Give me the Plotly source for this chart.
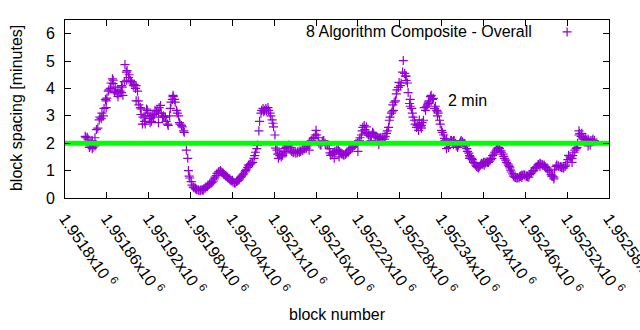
import plotly.graph_objects as go

# Block heights and the averaged block spacing (minutes) at each
blocks = [
    1951829, 1951830, 1951832, 1951833, 1951835, 1951836, 1951839, 1951840, 1951843, 1951845,
    1951847, 1951849, 1951850, 1951852, 1951853, 1951856, 1951858, 1951859, 1951860, 1951862,
    1951863, 1951865, 1951866, 1951868, 1951869, 1951871, 1951872, 1951873, 1951875, 1951876,
    1951879, 1951881, 1951882, 1951883, 1951885, 1951886, 1951888, 1951889, 1951891, 1951892,
    1951894, 1951895, 1951896, 1951898, 1951899, 1951901, 1951902, 1951904, 1951905, 1951906,
    1951908, 1951909, 1951911, 1951912, 1951914, 1951915, 1951917, 1951918, 1951919, 1951921,
    1951922, 1951924, 1951925, 1951927, 1951928, 1951929, 1951931, 1951932, 1951934, 1951935,
    1951937, 1951938, 1951940, 1951941, 1951942, 1951944, 1951945, 1951947, 1951948, 1951950,
    1951951, 1951952, 1951954, 1951955, 1951957, 1951958, 1951960, 1951961, 1951963, 1951964,
    1951965, 1951967, 1951968, 1951970, 1951971, 1951974, 1951976, 1951977, 1951978, 1951979,
    1951981, 1951982, 1951984, 1951985, 1951987, 1951988, 1951989, 1951991, 1951992, 1951994,
    1951995, 1951997, 1951998, 1951999, 1952001, 1952002, 1952004, 1952005, 1952007, 1952008,
    1952010, 1952011, 1952013, 1952014, 1952015, 1952017, 1952018, 1952020, 1952021, 1952023,
    1952024, 1952026, 1952027, 1952028, 1952030, 1952031, 1952033, 1952034, 1952036, 1952037,
    1952039, 1952040, 1952041, 1952043, 1952044, 1952046, 1952047, 1952049, 1952050, 1952052,
    1952053, 1952055, 1952056, 1952058, 1952059, 1952060, 1952062, 1952063, 1952065, 1952066,
    1952068, 1952069, 1952071, 1952072, 1952073, 1952075, 1952076, 1952078, 1952079, 1952081,
    1952082, 1952084, 1952085, 1952086, 1952088, 1952089, 1952091, 1952092, 1952094, 1952095,
    1952097, 1952098, 1952099, 1952101, 1952102, 1952104, 1952105, 1952107, 1952108, 1952110,
    1952111, 1952112, 1952114, 1952115, 1952117, 1952118, 1952120, 1952121, 1952123, 1952124,
    1952125, 1952127, 1952128, 1952130, 1952131, 1952133, 1952134, 1952136, 1952137, 1952138,
    1952140, 1952141, 1952143, 1952144, 1952146, 1952147, 1952148, 1952150, 1952151, 1952153,
    1952154, 1952156, 1952157, 1952159, 1952160, 1952161, 1952163, 1952164, 1952166, 1952167,
    1952169, 1952170, 1952171, 1952173, 1952174, 1952176, 1952177, 1952179, 1952180, 1952181,
    1952183, 1952184, 1952186, 1952187, 1952189, 1952190, 1952192, 1952193, 1952194, 1952196,
    1952197, 1952199, 1952200, 1952202, 1952203, 1952204, 1952206, 1952207, 1952209, 1952210,
    1952212, 1952213, 1952215, 1952216, 1952217, 1952219, 1952220, 1952222, 1952223, 1952225,
    1952226, 1952227, 1952229, 1952230, 1952232, 1952233, 1952235, 1952236, 1952238, 1952239,
    1952241, 1952242, 1952243, 1952245, 1952246, 1952248, 1952249, 1952251, 1952252, 1952253,
    1952255, 1952256, 1952258, 1952259, 1952261, 1952262, 1952264, 1952265, 1952266, 1952268,
    1952269, 1952271, 1952272, 1952274, 1952275, 1952276, 1952278, 1952279, 1952281, 1952282,
    1952284, 1952285, 1952287, 1952288, 1952289, 1952291, 1952292, 1952294, 1952295, 1952297,
    1952298, 1952299, 1952301, 1952302, 1952304, 1952305, 1952307, 1952308, 1952310, 1952311,
    1952312, 1952314, 1952315, 1952317, 1952318, 1952320, 1952321, 1952322, 1952324, 1952325,
    1952327, 1952328, 1952330, 1952331, 1952333, 1952334, 1952335, 1952337, 1952338, 1952340,
    1952341, 1952343, 1952344, 1952345, 1952347, 1952348, 1952350, 1952351, 1952353, 1952354,
    1952356, 1952357, 1952358, 1952360, 1952361, 1952363, 1952364, 1952366, 1952367, 1952368,
    1952370, 1952371, 1952373, 1952374, 1952376, 1952377, 1952379, 1952380, 1952381, 1952383,
    1952384, 1952386, 1952387, 1952389, 1952390, 1952392, 1952393, 1952394, 1952396, 1952397,
    1952399, 1952400, 1952402, 1952403, 1952405, 1952406, 1952407, 1952409, 1952410, 1952412,
    1952413, 1952415, 1952416, 1952418, 1952419, 1952420, 1952422, 1952423, 1952425, 1952426,
    1952428, 1952429, 1952430, 1952432, 1952433, 1952435, 1952436, 1952438, 1952439, 1952440,
    1952442, 1952443, 1952445, 1952446, 1952448, 1952449, 1952451, 1952452, 1952453, 1952455,
    1952456, 1952458, 1952459, 1952461, 1952462, 1952463, 1952465, 1952466, 1952468, 1952469,
    1952471, 1952472, 1952474, 1952475, 1952476, 1952478, 1952479, 1952481, 1952482, 1952484,
    1952485, 1952487, 1952488, 1952489, 1952491, 1952492, 1952494, 1952495, 1952497, 1952498,
    1952499, 1952501, 1952502, 1952504, 1952505, 1952507, 1952508, 1952510, 1952511, 1952512,
    1952514, 1952515, 1952517, 1952518, 1952520, 1952521, 1952522, 1952524, 1952525, 1952527,
    1952528, 1952530, 1952531, 1952533, 1952534, 1952535, 1952537, 1952538, 1952540, 1952541,
    1952543, 1952544, 1952546, 1952547, 1952548, 1952550, 1952551, 1952553, 1952554, 1952556,
    1952557, 1952559,
]

spacing_minutes = [
    2.25, 2.2, 2.22, 2.15, 1.85, 1.9, 2.1, 1.85, 2.2, 2.5,
    2.55, 2.85, 2.95, 2.9, 3.1, 3.27, 3.6, 3.55, 3.65, 3.9,
    3.95, 4.0, 4.2, 4.35, 4.18, 3.85, 4.05, 3.9, 3.8, 3.95,
    3.9, 4.1, 4.05, 3.75, 4.25, 4.87, 4.6, 4.65, 4.4, 4.5,
    4.3, 4.25, 4.2, 4.1, 4.15, 4.0, 4.1, 3.9, 3.55, 3.4,
    3.3, 3.05, 2.7, 2.95, 2.8, 3.0, 3.25, 3.2, 3.1, 2.9,
    2.75, 2.8, 3.0, 2.95, 3.05, 3.2, 3.15, 3.2, 3.1, 3.3,
    3.38, 3.1, 2.95, 3.0, 2.95, 2.95, 2.8, 2.7, 2.65, 3.0,
    3.27, 3.5, 3.6, 3.75, 3.6, 3.5, 3.2, 3.1, 3.0, 2.75,
    2.7, 2.65, 2.6, 2.45, 2.4, 1.75, 1.45, 1.0, 0.8, 0.73,
    0.6, 0.47, 0.4, 0.38, 0.36, 0.32, 0.3, 0.3, 0.28, 0.27,
    0.3, 0.3, 0.28, 0.33, 0.36, 0.4, 0.42, 0.47, 0.5, 0.52,
    0.55, 0.58, 0.62, 0.7, 0.76, 0.82, 0.9, 0.95, 0.97, 1.0,
    0.95, 0.92, 0.9, 0.85, 0.82, 0.8, 0.76, 0.72, 0.7, 0.65,
    0.62, 0.65, 0.58, 0.55, 0.55, 0.6, 0.62, 0.65, 0.7, 0.75,
    0.8, 0.84, 0.88, 0.95, 1.0, 1.05, 1.12, 1.2, 1.22, 1.25,
    1.28, 1.3, 1.45, 1.55, 1.67, 1.8, 1.93, 2.45, 2.8, 3.1,
    3.2, 3.27, 3.15, 3.2, 3.27, 3.2, 3.3, 3.2, 3.1, 3.0,
    2.85, 2.73, 2.6, 2.3, 1.82, 1.75, 1.6, 1.64, 1.55, 1.5,
    1.6, 1.56, 1.7, 1.8, 1.85, 1.9, 1.9, 1.93, 1.85, 1.75,
    1.7, 1.67, 1.65, 1.7, 1.64, 1.65, 1.7, 1.67, 1.72, 1.7,
    1.75, 1.75, 1.8, 1.8, 1.82, 1.9, 1.95, 2.0, 2.05, 2.1,
    2.1, 2.18, 2.2, 2.3, 2.47, 2.3, 2.2, 2.0, 1.95, 1.93,
    2.05, 2.1, 2.1, 2.0, 1.95, 1.95, 1.93, 1.8, 1.65, 1.56,
    1.6, 1.65, 1.67, 1.7, 1.72, 1.75, 1.75, 1.7, 1.68, 1.64,
    1.6, 1.58, 1.56, 1.6, 1.62, 1.65, 1.67, 1.72, 1.78, 1.82,
    1.85, 1.9, 1.93, 1.95, 1.98, 2.0, 2.04, 2.1, 2.2, 2.3,
    2.45, 2.58, 2.65, 2.5, 2.4, 2.35, 2.3, 2.3, 2.25, 2.3,
    2.4, 2.36, 2.3, 2.25, 2.22, 2.2, 2.2, 2.18, 2.2, 2.2,
    2.15, 2.2, 2.15, 2.25, 2.36, 2.45, 2.58, 2.84, 2.95, 3.1,
    3.15, 3.2, 3.5, 3.55, 3.8, 3.95, 4.04, 4.22, 4.1, 4.2,
    4.6, 5.02, 4.55, 4.45, 4.29, 4.2, 3.85, 3.45, 3.6, 3.27,
    3.1, 2.95, 2.84, 2.7, 2.58, 2.65, 2.47, 2.7, 2.6, 2.65,
    2.75, 2.84, 3.3, 3.2, 3.35, 3.4, 3.5, 3.55, 3.7, 3.75,
    3.6, 3.64, 3.27, 3.35, 3.2, 3.15, 3.1, 2.84, 2.7, 2.47,
    2.4, 2.3, 2.18, 2.1, 2.15, 1.95, 1.85, 2.0, 2.1, 2.1,
    2.05, 2.1, 2.1, 2.0, 1.9, 1.85, 1.93, 2.0, 2.05, 2.1,
    2.05, 2.0, 2.0, 1.9, 1.8, 1.7, 1.64, 1.55, 1.5, 1.45,
    1.4, 1.3, 1.27, 1.2, 1.15, 1.12, 1.1, 1.15, 1.2, 1.27,
    1.25, 1.3, 1.3, 1.28, 1.32, 1.3, 1.3, 1.35, 1.4, 1.45,
    1.55, 1.6, 1.67, 1.72, 1.78, 1.82, 1.85, 1.8, 1.72, 1.67,
    1.6, 1.52, 1.45, 1.38, 1.3, 1.25, 1.2, 1.1, 1.02, 0.95,
    0.88, 0.8, 0.76, 0.75, 0.72, 0.75, 0.73, 0.78, 0.8, 0.84,
    0.82, 0.85, 0.84, 0.8, 0.8, 0.78, 0.76, 0.85, 0.9, 0.95,
    1.0, 1.0, 1.1, 1.1, 1.13, 1.2, 1.22, 1.27, 1.25, 1.22,
    1.2, 1.2, 1.15, 1.12, 1.1, 1.05, 1.0, 0.95, 0.85, 0.8,
    0.8, 0.76, 1.05, 1.15, 1.2, 1.18, 1.15, 1.13, 1.15, 1.12,
    1.1, 1.1, 1.15, 1.2, 1.3, 1.4, 1.56, 1.5, 1.45, 1.45,
    1.55, 1.67, 1.75, 1.8, 1.85, 2.0, 2.3, 2.35, 2.25, 2.36,
    2.2, 2.15, 2.18, 2.15, 2.1, 2.15, 2.1, 1.93, 2.1, 2.1,
    2.15, 2.1,
]

# Further samples that sit off the main band
stray_blocks = [
    1951839, 1951843, 1951855, 1951859, 1951869, 1951876, 1951881, 1951888, 1951902, 1951909,
    1951915, 1951922, 1951934, 1951955, 1952106, 1952117, 1952150, 1952186, 1952193, 1952220,
    1952232, 1952239, 1952250, 1952270, 1952289, 1952295, 1952308, 1952311, 1952322, 1952334,
    1952347, 1952357, 1952380, 1952401, 1952437, 1952455, 1952481, 1952501, 1952527, 1952537,
    1952550,
]
stray_minutes = [
    1.8, 1.9, 3.0, 3.3, 4.3, 3.7, 3.85, 4.3, 3.55, 3.25,
    2.7, 3.0, 2.75, 3.7, 1.45, 1.65, 1.75, 1.45, 1.5, 1.7,
    2.6, 2.1, 1.95, 3.4, 4.45, 3.35, 2.85, 2.55, 3.45, 3.0,
    1.8, 1.95, 1.45, 1.2, 1.15, 0.75, 1.15, 0.7, 1.3, 2.45,
    1.9,
]

# Target spacing reference line
target_minutes = 2

# Axis ticks
x_tick_values = [1951800 + 60 * i for i in range(14)]
x_tick_mantissas = ["1.9518", "1.95186", "1.95192", "1.95198", "1.95204", "1.9521", "1.95216",
                    "1.95222", "1.95228", "1.95234", "1.9524", "1.95246", "1.95252", "1.95258"]
x_range = [1951800, 1952580]
y_tick_values = [0, 1, 2, 3, 4, 5, 6]
y_range = [0, 6.5]

series_name = "8 Algorithm Composite - Overall"
series_color = "#9400d3"
FONT = "Liberation Sans, Arial, sans-serif"

marker_style = dict(symbol="cross-thin-open", size=6.5, color=series_color,
                    line=dict(color=series_color, width=1.2))

fig = go.Figure()

fig.add_trace(go.Scatter(
    x=blocks + stray_blocks, y=spacing_minutes + stray_minutes,
    mode="markers", name=series_name, showlegend=False, marker=marker_style,
))

fig.add_trace(go.Scatter(
    x=x_range, y=[target_minutes, target_minutes], mode="lines", showlegend=False,
    line=dict(color="#00ff00", width=5),
))

# Key sample symbol drawn on an overlay axis in plot-fraction coordinates
fig.add_trace(go.Scatter(
    x=[0.923], y=[0.933], xaxis="x2", yaxis="y2", mode="markers", showlegend=False,
    marker=marker_style,
))

axis_common = dict(
    showline=True, linecolor="black", linewidth=1, mirror="allticks",
    ticks="inside", ticklen=6, tickcolor="black", tickwidth=1,
    showgrid=False, zeroline=False, automargin=False,
    tickfont=dict(family=FONT, size=16, color="black"),
)

fig.update_layout(
    width=640, height=330,
    margin=dict(l=65, r=31, t=20, b=132),
    paper_bgcolor="white", plot_bgcolor="white",
    font=dict(family=FONT, size=16, color="black"),
    xaxis=dict(
        range=x_range, tickmode="array", tickvals=x_tick_values,
        ticktext=[m + "x10 <sup>6</sup>" for m in x_tick_mantissas],
        tickangle=55, ticklabelstandoff=4, ticklabeloverflow="allow",
        **axis_common,
    ),
    yaxis=dict(
        range=y_range, tickmode="array", tickvals=y_tick_values,
        ticklabelstandoff=6,
        **axis_common,
    ),
    xaxis2=dict(overlaying="x", range=[0, 1], visible=False),
    yaxis2=dict(overlaying="y", range=[0, 1], visible=False),
    annotations=[
        dict(text=series_name, xref="paper", yref="paper", x=0.862, y=0.933,
             xanchor="right", yanchor="middle", showarrow=False,
             font=dict(family=FONT, size=16, color="black")),
        dict(text="2 min", xref="paper", yref="paper", x=0.700, y=0.545,
             xanchor="left", yanchor="middle", showarrow=False,
             font=dict(family=FONT, size=16, color="black")),
        dict(text="block number", xref="paper", yref="paper", x=0.5, y=-0.657,
             xanchor="center", yanchor="middle", showarrow=False,
             font=dict(family=FONT, size=16, color="black")),
        dict(text="block spacing [minutes]", xref="paper", yref="paper", x=-0.088, y=0.506,
             xanchor="center", yanchor="middle", textangle=-90, showarrow=False,
             font=dict(family=FONT, size=16, color="black")),
    ],
)

fig.write_html("out.html")
